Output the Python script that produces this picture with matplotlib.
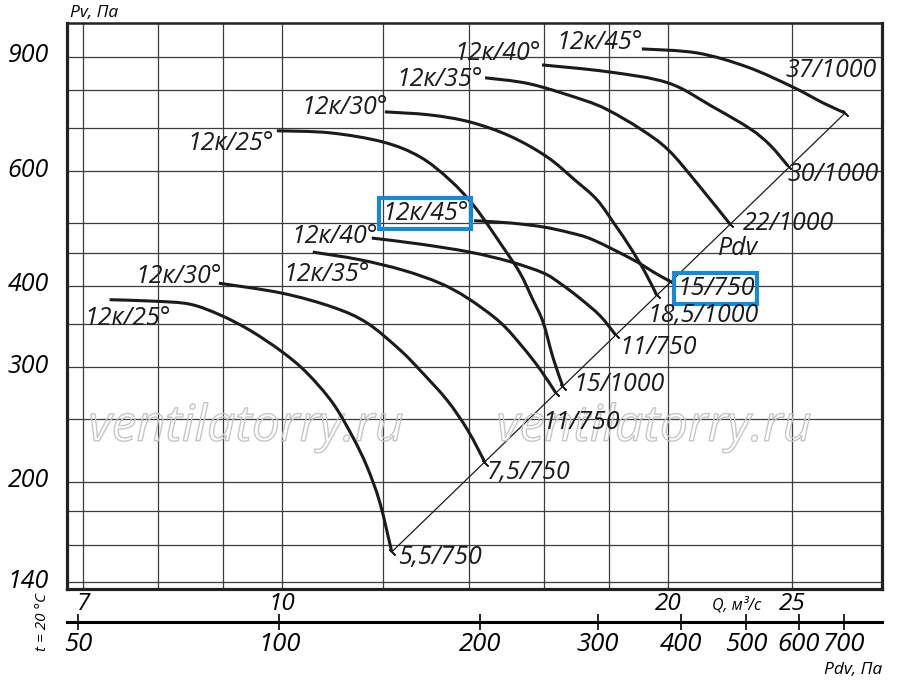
import matplotlib.pyplot as plt
import matplotlib.patheffects as pe
import matplotlib.transforms as mtransforms
from matplotlib.ticker import NullLocator
from matplotlib.path import Path
from matplotlib.patches import PathPatch
import numpy as np

# Q (m3/s) and Pv (Pa) -- 750 rpm family
q_750_25 = [7.34, 7.96, 8.48, 8.95, 9.44, 10.00, 10.46, 10.96, 11.36, 11.65, 11.92, 12.18]
p_750_25 = [381, 379, 375, 361, 342, 317, 294, 264, 234, 211, 186, 156]
q_750_30 = [8.93, 10.00, 10.96, 11.65, 12.36, 12.81, 13.45, 13.96, 14.40]
p_750_30 = [404, 390, 371, 351, 319, 297, 267, 240, 214]
q_750_35 = [10.57, 11.50, 12.43, 13.28, 13.96, 14.79, 15.41, 15.89, 16.35]
p_750_35 = [451, 439, 423, 404, 383, 352, 322, 298, 274]
q_750_40 = [11.75, 12.81, 14.01, 15.06, 15.98, 16.47, 17.07, 17.70, 18.21]
p_750_40 = [474, 464, 451, 436, 419, 404, 383, 360, 336]
q_750_45 = [14.12, 15.06, 15.98, 16.77, 17.48, 18.78, 19.53, 20.10]
p_750_45 = [504, 500, 493, 483, 471, 439, 419, 406]

# 1000 rpm family
q_1000_25 = [9.91, 10.90, 11.99, 12.81, 13.52, 14.14, 14.87, 15.33, 15.69, 15.98, 16.27, 16.56]
p_1000_25 = [693, 688, 666, 632, 582, 529, 459, 419, 381, 352, 310, 280]
q_1000_30 = [12.03, 13.04, 14.01, 15.06, 16.09, 16.92, 17.60, 18.18, 18.68, 19.19, 19.60]
p_1000_30 = [741, 733, 715, 680, 632, 582, 543, 497, 459, 420, 387]
q_1000_35 = [14.40, 15.61, 17.17, 17.95, 19.02, 20.00, 21.06, 22.35]
p_1000_35 = [836, 818, 773, 746, 698, 648, 576, 498]
q_1000_40 = [15.95, 17.95, 20.00, 21.68, 23.17, 24.01, 24.80]
p_1000_40 = [875, 854, 821, 754, 698, 659, 612]
q_1000_45 = [19.08, 21.06, 23.04, 25.02, 26.41, 27.48]
p_1000_45 = [926, 913, 869, 809, 765, 738]

angles = ['12к/25°', '12к/30°', '12к/35°', '12к/40°', '12к/45°']
motors_750 = ['5,5/750', '7,5/750', '11/750', '11/750', '15/750']
motors_1000 = ['15/1000', '18,5/1000', '22/1000', '30/1000', '37/1000']

q_grid = [7, 8, 9, 10, 12, 14, 16, 18, 20, 25]
p_grid = [140, 160, 180, 200, 250, 300, 350, 400, 450, 500, 600, 700, 800, 900]
q_ticks = [7, 10, 20, 25]
p_ticks = [140, 200, 300, 400, 600, 900]
pdv_ticks = [50, 100, 200, 300, 400, 500, 600, 700]
q_lim = (6.80, 29.36)
p_lim = (136.8, 1015)

plt.rcParams['font.family'] = ['Open Sans', 'DejaVu Sans']
plt.rcParams['font.style'] = 'italic'

ink = '#1b1b1b'
blue = '#1688d6'


def smooth_path(q, p):
    # Catmull-Rom bezier through the read points, built in log space
    pts = np.column_stack([np.log10(q), np.log10(p)])
    ext = np.vstack([pts[0], pts, pts[-1]])
    verts = [pts[0]]
    codes = [Path.MOVETO]
    for i in range(len(pts) - 1):
        p0, p1, p2, p3 = ext[i], ext[i + 1], ext[i + 2], ext[i + 3]
        verts += [p1 + (p2 - p0) / 6, p2 - (p3 - p1) / 6, p2]
        codes += [Path.CURVE4] * 3
    return Path(10 ** np.array(verts), codes)


fig = plt.figure(figsize=(9, 6.93), dpi=100)
ax = fig.add_axes([67 / 900, 104 / 693, 815 / 900, 566 / 693])
ax.set_xscale('log')
ax.set_yscale('log')
ax.set_xlim(*q_lim)
ax.set_ylim(*p_lim)

for q in q_grid:
    ax.axvline(q, color='#3c3c3c', lw=0.9, zorder=1)
for p in p_grid:
    ax.axhline(p, color='#3c3c3c', lw=0.9, zorder=1)

for s in ax.spines.values():
    s.set_linewidth(2.3)
    s.set_color('#222222')
ax.spines['top'].set_linewidth(1.8)

ax.xaxis.set_minor_locator(NullLocator())
ax.yaxis.set_minor_locator(NullLocator())
ax.set_xticks(q_ticks, [str(v) for v in q_ticks])
ax.set_yticks(p_ticks, [str(v) for v in p_ticks])
ax.tick_params(axis='x', length=0, pad=2, labelsize=17.5)
ax.tick_params(axis='y', length=0, pad=13, labelsize=18)
up = mtransforms.ScaledTranslation(0, 4 / 100, fig.dpi_scale_trans)
for lab in ax.get_yticklabels():
    lab.set_transform(lab.get_transform() + up)

curves_750 = [(q_750_25, p_750_25), (q_750_30, p_750_30), (q_750_35, p_750_35),
              (q_750_40, p_750_40), (q_750_45, p_750_45)]
curves_1000 = [(q_1000_25, p_1000_25), (q_1000_30, p_1000_30), (q_1000_35, p_1000_35),
               (q_1000_40, p_1000_40), (q_1000_45, p_1000_45)]

# label offsets in pixels: (start dx, start dy, end dx, end dy)
offs_750 = [(18, -19, 6, -6), (-40, 7, 2, -10), (14, -22, -13, -30),
            (-37, 2, 4, -12), (-49, 7, 6, -7)]
offs_1000 = [(-46, -13, 10, 2), (-40, 4, -9, -20), (-45, -2, 13, 1),
             (-44, 11, 0, -9), (-42, 6, -60, 43)]

ends = []
for fam, curves, motors, offs in [('750', curves_750, motors_750, offs_750),
                                  ('1000', curves_1000, motors_1000, offs_1000)]:
    for i, (q, p) in enumerate(curves):
        ax.add_patch(PathPatch(smooth_path(q, p), fc='none', ec=ink, lw=2.2,
                               capstyle='butt', zorder=3))
        ax.plot(q[-1], p[-1], marker=(2, 2, 45), ms=6, mew=1, color=ink, zorder=3)
        ends.append((q[-1], p[-1]))
        sdx, sdy, edx, edy = offs[i]
        boxed = fam == '750' and i == 4
        bb = dict(boxstyle='square,pad=0.12', fc='none', ec=blue, lw=3) if boxed else None
        ax.annotate(angles[i], (q[0], p[0]), xytext=(sdx, sdy), textcoords='offset pixels',
                    ha='center', va='center', fontsize=18, color=ink, bbox=bb, zorder=4)
        ax.annotate(motors[i], (q[-1], p[-1]), xytext=(edx, edy), textcoords='offset pixels',
                    ha='left', va='center', fontsize=18, color=ink, bbox=bb, zorder=4)

# Pdv line through the curve ends
ends.sort()
ax.plot([ends[0][0], ends[-1][0]], [ends[0][1], ends[-1][1]], color=ink, lw=0.9, zorder=2)
ax.annotate('Pdv', (q_1000_35[-1], p_1000_35[-1]), xytext=(-12, -24), textcoords='offset pixels',
            ha='left', va='center', fontsize=18, color=ink)

# watermark
for xw in (0.2196, 0.7202):
    ax.text(xw, 0.2845, 'ventilatorry.ru', transform=ax.transAxes, ha='center', va='center',
            fontsize=36, color='none', zorder=2,
            path_effects=[pe.Stroke(linewidth=1.0, foreground='#c6c6c6')])

ax.text(0.822, -0.028, 'Q, м³/с', transform=ax.transAxes, ha='center', va='center', fontsize=11.5)

# Pdv scale under the Q axis (as drawn on the chart, roughly Pdv ~ 1.21*Q^1.92)
sec = ax.secondary_xaxis(-0.0583, functions=(lambda q: 1.214 * q ** 1.92,
                                             lambda d: (d / 1.214) ** (1 / 1.92)))
sec.xaxis.set_minor_locator(NullLocator())
sec.set_xticks(pdv_ticks, [str(v) for v in pdv_ticks])
sec.tick_params(direction='inout', length=12, width=1.2, pad=1, labelsize=18.5)
sec.spines['bottom'].set_linewidth(2.2)

fig.text(853 / 900, 1 - 670 / 693, 'Pdv, Па', ha='center', va='center', fontsize=12.5)
fig.text(70 / 900, 1 - 13 / 693, 'Pv, Па', ha='left', va='center', fontsize=12.5)
fig.text(43 / 900, 1 - 622 / 693, 't = 20 °C', ha='center', va='center', rotation=90, fontsize=11)

fig.savefig('out.png', dpi=100)
